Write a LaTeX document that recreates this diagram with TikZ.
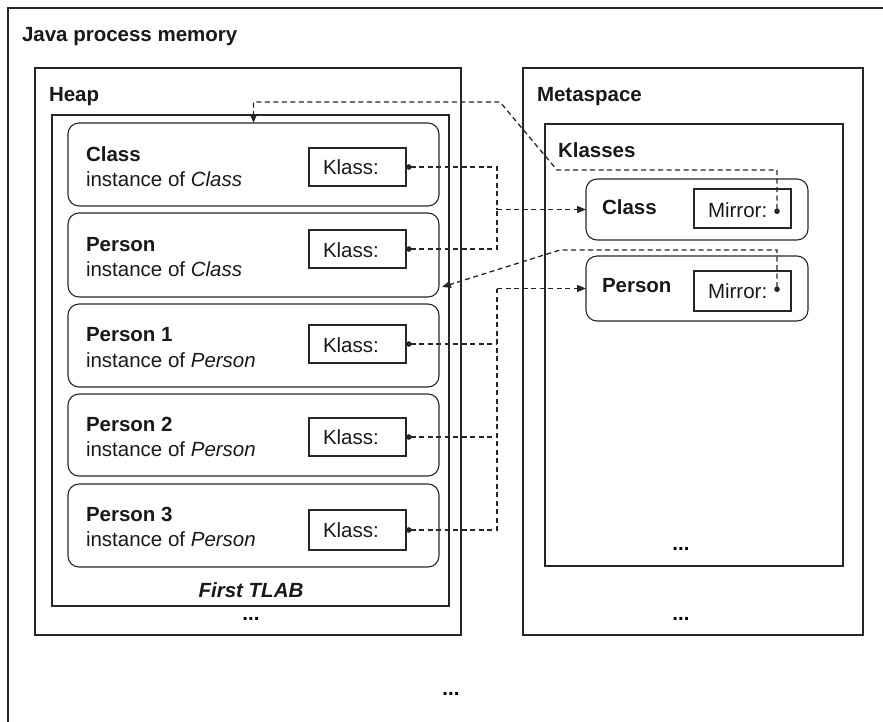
\documentclass[tikz,border=0pt]{standalone}
\usepackage{fontspec}
\setmainfont{Liberation Sans}
\usetikzlibrary{arrows.meta,calc}
\begin{document}
\begin{tikzpicture}[x=1pt,y=-1pt,
  every node/.style={font=\fontsize{20.5pt}{24pt}\selectfont, inner sep=0pt, outer sep=0pt},
  frame/.style={draw=black!85, line width=1.1pt, anchor=north west},
  obj/.style={frame, rounded corners=11pt, minimum width=371pt},
  kbox/.style={frame, minimum width=97pt},
  lbl/.style={anchor=base west, text=black!90},
  blbl/.style={lbl, font=\fontsize{20.5pt}{24pt}\selectfont\bfseries},
  dots/.style={anchor=base, text=black, font=\fontsize{20.5pt}{24pt}\selectfont\bfseries},
  dlink/.style={draw=black!85, line width=1.3pt, dash pattern=on 5pt off 3.5pt},
  arr/.style={-{Triangle[length=9pt,width=7pt]}},
  dotarr/.style={{Circle[length=5.5pt]}-{Triangle[length=9pt,width=7pt]}},
  dotonly/.style={{Circle[length=5.5pt]}-},
]
\clip (0,0) rectangle (883,721);
% outer frame
\node[frame, minimum width=900pt, minimum height=740pt] (outer) at (8,8) {};
\node[blbl] (jpm) at (22,41) {Java process memory};
% heap
\node[frame, minimum width=426pt, minimum height=567pt] (heap) at (35,68) {};
\node[blbl] (heaplbl) at (49,101) {Heap};
\node[frame, minimum width=397pt, minimum height=491pt] (tlab) at (52,115) {};
\node[anchor=base, text=black!90, font=\fontsize{20.5pt}{24pt}\selectfont\bfseries\itshape] (tlablbl) at (251,597) {First TLAB};
\node[dots] (heapdots) at (251,620) {...};
% heap objects
\node[obj, minimum height=83pt] (o1) at (68,123) {};
\node[obj, minimum height=84pt] (o2) at (68,213) {};
\node[obj, minimum height=83pt] (o3) at (68,304) {};
\node[obj, minimum height=82pt] (o4) at (68,394) {};
\node[obj, minimum height=83pt] (o5) at (68,484) {};
\node[kbox, minimum height=38pt] (k1) at (309,148) {};
\node[kbox, minimum height=38pt] (k2) at (309,230) {};
\node[kbox, minimum height=38pt] (k3) at (309,325) {};
\node[kbox, minimum height=38pt] (k4) at (309,418) {};
\node[kbox, minimum height=40pt] (k5) at (309,510) {};
\node[lbl] (k1t) at (323,174) {Klass:};
\node[lbl] (k2t) at (323,257) {Klass:};
\node[lbl] (k3t) at (323,352) {Klass:};
\node[lbl] (k4t) at (323,444) {Klass:};
\node[lbl] (k5t) at (323,537) {Klass:};
\node[blbl] (n1) at (86,161) {Class};
\node[lbl] (i1) at (86,186) {instance of \textit{Class}};
\node[blbl] (n2) at (86,251) {Person};
\node[lbl] (i2) at (86,276) {instance of \textit{Class}};
\node[blbl] (n3) at (86,341) {Person 1};
\node[lbl] (i3) at (86,367) {instance of \textit{Person}};
\node[blbl] (n4) at (86,431) {Person 2};
\node[lbl] (i4) at (86,456) {instance of \textit{Person}};
\node[blbl] (n5) at (86,521) {Person 3};
\node[lbl] (i5) at (86,546) {instance of \textit{Person}};
% metaspace
\node[frame, minimum width=340pt, minimum height=567pt] (meta) at (523,68) {};
\node[blbl] (metalbl) at (537,101) {Metaspace};
\node[dots] (metadots) at (681,620) {...};
\node[frame, minimum width=298pt, minimum height=442pt] (klasses) at (545,124) {};
\node[blbl] (klasseslbl) at (558,157) {Klasses};
\node[dots] (klassesdots) at (681,550) {...};
\node[frame, rounded corners=11pt, minimum width=222pt, minimum height=61pt] (kc) at (586,179) {};
\node[frame, rounded corners=11pt, minimum width=222pt, minimum height=65pt] (kp) at (586,256) {};
\node[frame, minimum width=97pt, minimum height=39pt] (mc) at (694,189) {};
\node[frame, minimum width=97pt, minimum height=40pt] (mp) at (694,271) {};
\node[blbl] (kclbl) at (602,214) {Class};
\node[blbl] (kplbl) at (602,292) {Person};
\node[lbl] (mct) at (708,217) {Mirror:};
\node[lbl] (mpt) at (708,298) {Mirror:};
\node[dots] (bottomdots) at (451,695) {...};
% connector coordinates
\coordinate (j1) at (497,209.5);
\coordinate (j2) at (497,288.5);
\coordinate (mcd) at (777,214);
\coordinate (mpd) at (777,292);
\coordinate (c1) at (557,170);
\coordinate (c2) at (500,102);
\coordinate (p1) at (560,250);
\coordinate (p2in) at (442,287);
% klass pointers
\draw[dlink, dotonly] (k1.east) -| (j1);
\draw[dlink, dotonly] (k2.east) -| (j1);
\draw[dlink, arr] (j1) -- (kc.west);
\draw[dlink, dotonly] (k5.east) -| (j2);
\draw[dlink, dotonly] (k3.east) -- (k3.east -| j2);
\draw[dlink, dotonly] (k4.east) -- (k4.east -| j2);
\draw[dlink, arr] (j2) -- (kp.west);
% mirror pointers
\draw[dlink, dotarr] (mcd) |- (c1) -- (c2) -| (o1.north);
\draw[dlink, dotarr] (mpd) |- (p1) -- (p2in);
\end{tikzpicture}
\end{document}
